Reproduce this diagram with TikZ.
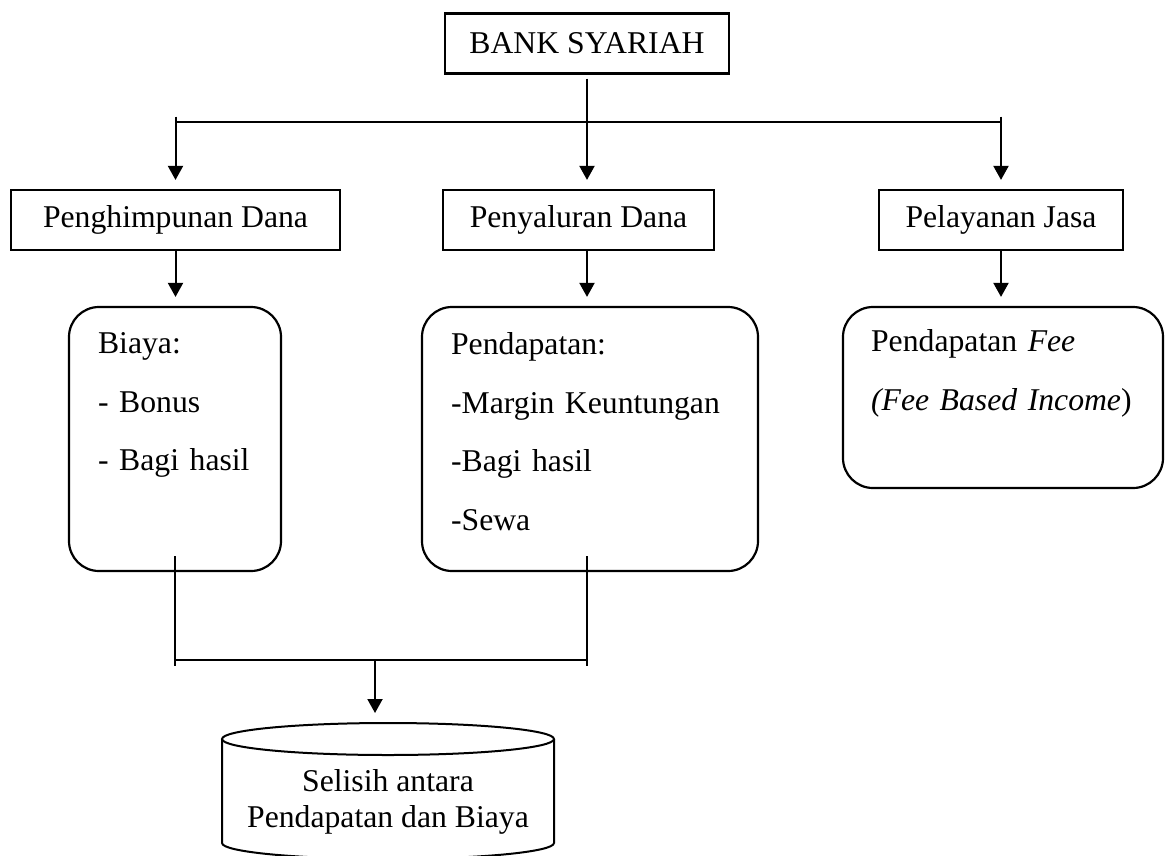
\documentclass[tikz,border=0pt]{standalone}
\usepackage{fontspec}
\setmainfont{Liberation Serif}
\usetikzlibrary{arrows.meta}
\tikzset{
  plainbox/.style={draw,line width=2.2pt,minimum height=60pt,inner sep=0pt},
  roundbox/.style={draw,line width=2.2pt,rounded corners=30pt,inner sep=0pt},
  itemtext/.style={text width=320pt,align=left,inner sep=0pt,font=\fontsize{31.7}{58.5}\selectfont},
  flow/.style={-{Triangle[length=14pt,width=15pt]},line width=2pt},
  link/.style={line width=2pt}
}
\begin{document}
\begin{tikzpicture}[x=1pt,y=-1pt,font=\fontsize{31.7}{36}\selectfont]
  \useasboundingbox (0,0) rectangle (1165,855);
  \node[plainbox,minimum width=284pt] (bank) at (587,43.5) {BANK SYARIAH};
  \node[plainbox,minimum width=329pt] (penghimpunan) at (175.5,220) {Penghimpunan Dana};
  \node[plainbox,minimum width=271pt] (penyaluran) at (578.5,220) {Penyaluran Dana};
  \node[plainbox,minimum width=244pt] (pelayanan) at (1001,220) {Pelayanan Jasa};
  \node[roundbox,minimum width=212pt,minimum height=264pt] (biaya) at (175,439) {};
  \node[roundbox,minimum width=336pt,minimum height=264pt] (pendapatan) at (590,439) {};
  \node[roundbox,minimum width=320pt,minimum height=181pt] (fee) at (1003,397.5) {};
  \node[itemtext,anchor=base west] (biayatext) at ([xshift=30pt,yshift=-48pt]biaya.north west) {Biaya:\\- Bonus\\- Bagi hasil};
  \node[itemtext,anchor=base west] (pendapatantext) at ([xshift=30pt,yshift=-49pt]pendapatan.north west) {Pendapatan:\\-Margin Keuntungan\\-Bagi hasil\\-Sewa};
  \node[itemtext,anchor=base west] (feetext) at ([xshift=29pt,yshift=-46pt]fee.north west) {Pendapatan \textit{Fee}\\\textit{(Fee Based Income})};
  \node[align=center,inner sep=0pt] (selisih) at (388,802) {Selisih antara\\Pendapatan dan Biaya};
  % cylinder round the result
  \draw[link] ([yshift=63pt]selisih.center) ellipse [x radius=166pt,y radius=16pt];
  \draw[link] ([shift={(-166pt,63pt)}]selisih.center) -- ([shift={(-166pt,-41pt)}]selisih.center)
    arc[start angle=180,end angle=360,x radius=166pt,y radius=16pt] -- ([shift={(166pt,63pt)}]selisih.center);
  % top split
  \coordinate (split) at ([yshift=-47pt]bank.south);
  \draw[flow] ([yshift=-4pt]bank.south) -- ([yshift=9pt]bank.south |- penyaluran.north);
  \draw[link] (split -| penghimpunan) -- (split -| pelayanan);
  \draw[flow] ([yshift=5pt]split -| penghimpunan) -- ([yshift=9pt]penghimpunan.north);
  \draw[flow] ([yshift=5pt]split -| pelayanan) -- ([yshift=9pt]pelayanan.north);
  \draw[flow] (penghimpunan.south) -- ([yshift=9pt]penghimpunan.south |- biaya.north);
  \draw[flow] (bank.south |- penyaluran.south) -- ([yshift=9pt]bank.south |- pendapatan.north);
  \draw[flow] (pelayanan.south) -- ([yshift=9pt]pelayanan.south |- fee.north);
  % bottom merge
  \coordinate (merge) at (375,660);
  \draw[link] ([yshift=16pt]biaya.south) -- ([yshift=-94pt]biaya.south);
  \draw[link] ([yshift=16pt]bank.south |- pendapatan.south) -- ([yshift=-94pt]bank.south |- pendapatan.south);
  \draw[link] (merge -| biaya) -- (merge -| bank);
  \draw[flow] (merge) -- ++(0,53);
\end{tikzpicture}
\end{document}
